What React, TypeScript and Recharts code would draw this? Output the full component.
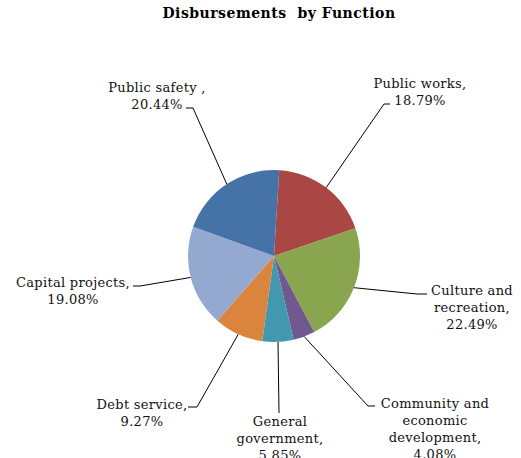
import { Pie, PieChart, Cell } from 'recharts';

const categories = [
  'Public works',
  'Culture and recreation',
  'Community and economic development',
  'General government',
  'Debt service',
  'Capital projects',
  'Public safety ',
];
const shares = [18.79, 22.49, 4.08, 5.85, 9.27, 19.08, 20.44];
const colors = ['#AA4643', '#89A54E', '#71588F', '#4198AF', '#DB843D', '#93A9CF', '#4572A7'];

// label placement, offsets from the pie centre: elbow, tick end, text centre, first line
const labelLayout = [
  { ex: 110, ey: -152, tx: 116, lx: 146, ly: -173 },
  { ex: 143, ey: 38, tx: 153, lx: 198, ly: 34 },
  { ex: 94, ey: 150, tx: 101, lx: 161, ly: 147 },
  { ex: 5, ey: 157, tx: 5, lx: 6, ly: 165 },
  { ex: -77, ey: 151, tx: -86, lx: -132, ly: 148 },
  { ex: -134, ey: 30, tx: -141, lx: -201, ly: 26 },
  { ex: -81, ey: -148, tx: -88, lx: -117, ly: -169 },
];

const data = categories.map((name, i) => ({ name, value: shares[i] }));

const CX = 274;
const CY = 256;
const R = 86;
const MARGIN = 5;
const FONT = '"DejaVu Serif", serif';

function wrap(text: string, max: number) {
  const words = text.split(' ');
  const lines: string[] = [];
  let cur = '';
  words.forEach((w) => {
    const next = cur ? cur + ' ' + w : w;
    if (next.length > max && cur) {
      lines.push(cur);
      cur = w;
    } else {
      cur = next;
    }
  });
  if (cur) lines.push(cur);
  return lines;
}

const renderLabel = (props: any) => {
  const RAD = Math.PI / 180;
  const cx = props.cx ?? CX;
  const cy = props.cy ?? CY;
  const r = props.outerRadius ?? R;
  const idx = props.index;
  const sx = cx + r * Math.cos(-props.midAngle * RAD);
  const sy = cy + r * Math.sin(-props.midAngle * RAD);
  const L = labelLayout[idx];
  const lines = [...wrap(categories[idx] + ',', 17), shares[idx].toFixed(2) + '%'];
  return (
    <g key={'lbl' + idx}>
      <polyline
        points={`${sx},${sy} ${cx + L.ex},${cy + L.ey} ${cx + L.tx},${cy + L.ey}`}
        fill="none"
        stroke="#000"
        strokeWidth={1}
      />
      <text
        x={cx + L.lx}
        y={cy + L.ly}
        textAnchor="middle"
        fontFamily={FONT}
        fontSize={13}
        letterSpacing={0.3}
        fill="#111"
      >
        {lines.map((t, i) => (
          <tspan key={i} x={cx + L.lx} y={cy + L.ly + i * 17} dy="0.35em">
            {t}
          </tspan>
        ))}
      </text>
    </g>
  );
};

export default function App() {
  return (
    <div style={{ position: 'absolute', left: 0, top: 0, width: 521, height: 458, background: '#fff' }}>
      <div
        style={{
          position: 'absolute',
          left: 0,
          width: 558,
          top: 5,
          textAlign: 'center',
          fontFamily: FONT,
          fontWeight: 'bold',
          fontSize: 14,
          letterSpacing: 0.5,
          whiteSpace: 'pre',
          color: '#000',
        }}
      >
        {'Disbursements  by Function'}
      </div>
      <PieChart width={521} height={458}>
        <Pie
          data={data}
          dataKey="value"
          nameKey="name"
          cx={CX - MARGIN}
          cy={CY - MARGIN}
          outerRadius={R}
          startAngle={86.5}
          endAngle={-273.5}
          stroke="none"
          label={renderLabel}
          labelLine={false}
          isAnimationActive={false}
        >
          {data.map((d, i) => (
            <Cell key={d.name} fill={colors[i]} />
          ))}
        </Pie>
      </PieChart>
    </div>
  );
}
